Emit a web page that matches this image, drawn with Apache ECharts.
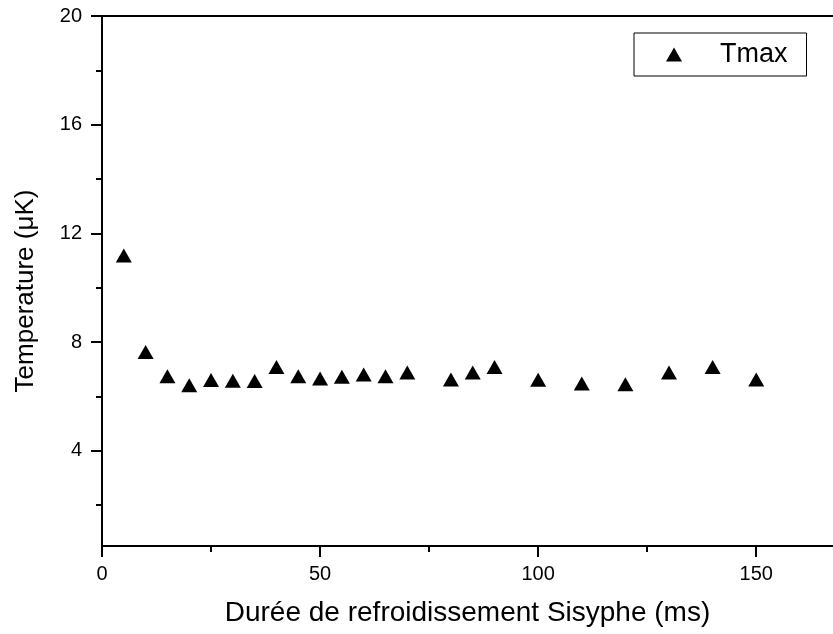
<!DOCTYPE html>
<html>
<head>
<meta charset="utf-8">
<script src="https://cdn.jsdelivr.net/npm/echarts@6/dist/echarts.min.js"></script>
<style>
  html, body { margin: 0; padding: 0; background: #fff; }
  #chart { width: 833px; height: 634px; }
</style>
</head>
<body>
<div id="chart"></div>
<script>
// durée de refroidissement (ms) et température max (µK)
const duree = [5, 10, 15, 20, 25, 30, 35, 40, 45, 50, 55, 60, 65, 70, 80, 85, 90, 100, 110, 120, 130, 140, 150];
const tmax = [11.19, 7.64, 6.75, 6.41, 6.61, 6.58, 6.57, 7.09, 6.75, 6.66, 6.73, 6.81, 6.75, 6.88, 6.63, 6.88, 7.09, 6.62, 6.48, 6.45, 6.88, 7.09, 6.63];
const xMajor = [0, 50, 100, 150];
const xMinor = [25, 75, 125];
const yMajor = [4, 8, 12, 16, 20];
const yMinor = [2, 6, 10, 14, 18];

const font = "'Liberation Sans', Arial, sans-serif";
const points = duree.map((d, i) => [d, tmax[i]]);

const chart = echarts.init(document.getElementById('chart'));
const lineStyle = { color: '#000', width: 2 };

chart.setOption({
  animation: false,
  backgroundColor: '#fff',
  grid: { left: 102, right: 0, top: 16, bottom: 88, outerBoundsMode: 'none' },
  legend: {
    left: 634,
    top: 33,
    orient: 'vertical',
    padding: [7, 19, 7, 32],
    borderColor: '#000',
    borderWidth: 1,
    itemWidth: 16,
    itemHeight: 14,
    textStyle: { fontFamily: font, fontSize: 27, lineHeight: 29, color: '#000', padding: [0, 0, 0, 33] },
    data: ['Tmax']
  },
  xAxis: [
    {
      type: 'value', position: 'bottom', min: 0, max: 167.6,
      name: 'Durée de refroidissement Sisyphe (ms)',
      nameLocation: 'middle', nameGap: 53,
      nameTextStyle: { fontFamily: font, fontSize: 28, color: '#000' },
      axisLine: { show: true, onZero: false, lineStyle },
      axisTick: { show: true, inside: false, length: 11, lineStyle, customValues: xMajor },
      axisLabel: { fontFamily: font, fontSize: 20, color: '#000', margin: 18, customValues: xMajor },
      splitLine: { show: false }
    },
    {
      type: 'value', position: 'bottom', min: 0, max: 167.6,
      axisLine: { show: false },
      axisTick: { show: true, length: 6, lineStyle, customValues: xMinor },
      axisLabel: { show: false },
      splitLine: { show: false }
    },
    {
      type: 'value', position: 'top', min: 0, max: 167.6,
      axisLine: { show: true, onZero: false, lineStyle },
      axisTick: { show: false },
      axisLabel: { show: false },
      splitLine: { show: false }
    }
  ],
  yAxis: [
    {
      type: 'value', position: 'left', min: 0.5, max: 20,
      name: 'Temperature (μK)',
      nameLocation: 'middle', nameGap: 63,
      nameTextStyle: { fontFamily: font, fontSize: 26, color: '#000', padding: [0, 20, 0, 0] },
      axisLine: { show: true, onZero: false, lineStyle },
      axisTick: { show: true, length: 11, lineStyle, customValues: yMajor },
      axisLabel: { fontFamily: font, fontSize: 20, color: '#000', margin: 20, customValues: yMajor },
      splitLine: { show: false }
    },
    {
      type: 'value', position: 'left', min: 0.5, max: 20,
      axisLine: { show: false },
      axisTick: { show: true, length: 6, lineStyle, customValues: yMinor },
      axisLabel: { show: false },
      splitLine: { show: false }
    }
  ],
  series: [
    {
      name: 'Tmax',
      type: 'scatter',
      xAxisIndex: 0,
      yAxisIndex: 0,
      symbol: 'triangle',
      symbolSize: [16, 14],
      itemStyle: { color: '#000', opacity: 1 },
      data: points
    }
  ]
});
</script>
</body>
</html>
